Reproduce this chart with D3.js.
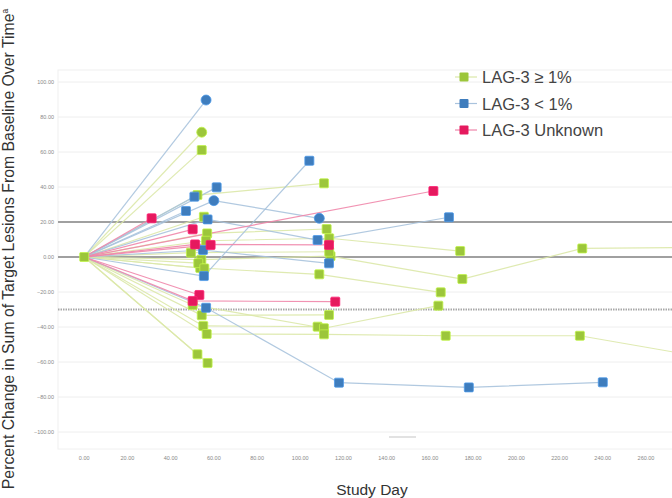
<!DOCTYPE html>
<html>
<head>
<meta charset="utf-8">
<script src="https://cdn.jsdelivr.net/npm/d3@7"></script>
<style>
  body { margin: 0; background: #fff; }
  svg { display: block; font-family: "Liberation Sans", Arial, sans-serif; }
</style>
</head>
<body>
<svg id="chart" width="672" height="498"></svg>
<script>
// Each patient: list of [study day, % change]; third item "o" = round marker
const lagHigh = [
    [[0, 0], [52.4, 35.4], [111, 42.1]],
    [[0, 0], [56.9, 13.5], [112.2, 16]],
    [[0, 0], [56.4, 9.3], [113.4, 10.7], [174, 3.4]],
    [[0, 0], [54.2, -1.5], [114, 0.5], [175, -12.6], [230.5, 4.9], [290, 5.5]],
    [[0, 0], [53.7, -6.3], [108.8, -9.9], [165, -20.2]],
    [[0, 0], [54.4, -33.3], [113.3, -33.1]],
    [[0, 0], [55.1, -39.4], [108, -39.8]],
    [[0, 0], [50.2, -27.4], [111, -40.7], [163.9, -27.8]],
    [[0, 0], [56.7, -44], [111, -44.2], [167.3, -45], [229.4, -45], [290, -58]],
    [[0, 0], [49.4, 2.5], [113.4, 3]],
    [[0, 0], [54.4, 71.3, "o"]],
    [[0, 0], [54.4, 61.1]],
    [[0, 0], [55.4, 23]],
    [[0, 0], [52.4, -55.6]],
    [[0, 0], [57.1, -60.6]],
    [[0, 0], [52.8, -3.5]],
    [[0, 0], [55.6, -6.5]]
];

const lagLow = [
    [[0, 0], [56.4, 89.7, "o"]],
    [[0, 0], [61.3, 39.8]],
    [[0, 0], [51, 34.5]],
    [[0, 0], [60, 32.2, "o"], [108.8, 22.1, "o"]],
    [[0, 0], [47.1, 26.3]],
    [[0, 0], [57.1, 21.5], [108, 9.7], [168.8, 22.7]],
    [[0, 0], [55, 4], [113.3, -3.6]],
    [[0, 0], [55.4, -10.9], [104.2, 55]],
    [[0, 0], [56.4, -29], [117.9, -71.8], [178, -74.5], [240, -71.6]]
];

const lagUnknown = [
    [[0, 0], [31.2, 22.1]],
    [[0, 0], [50.2, 15.8]],
    [[0, 0], [51.3, 7.2], [113.3, 6.9]],
    [[0, 0], [58.5, 6.9]],
    [[0, 0], [161.6, 37.7]],
    [[0, 0], [53.3, -21.7]],
    [[0, 0], [50.2, -25.1], [116.2, -25.5]]
];

const xTicks = d3.range(0, 261, 20);
const yTicks = d3.range(-100, 101, 20);
const refLines = [20, 0];
const dashedRef = -30;

const groups = [
    { name: "LAG-3 \u2265 1%", data: lagHigh, fill: "#9cc63b", line: "#dbe8a8" },
    { name: "LAG-3 < 1%", data: lagLow, fill: "#3f7dbd", line: "#a9c3dd" },
    { name: "LAG-3 Unknown", data: lagUnknown, fill: "#e5195e", line: "#ef86aa" }
];

const svg = d3.select("#chart");
const x = d3.scaleLinear().domain([0, 260]).range([84.2, 646]);
const y = d3.scaleLinear().domain([-100, 100]).range([432, 82]);

// plot frame
svg.append("rect")
    .attr("x", 58).attr("y", 70)
    .attr("width", 620).attr("height", 379)
    .attr("fill", "none").attr("stroke", "#f0f0f0");

// horizontal gridlines
svg.append("g").selectAll("line")
    .data(yTicks)
    .join("line")
    .attr("x1", 58).attr("x2", 672)
    .attr("y1", d => y(d)).attr("y2", d => y(d))
    .attr("stroke", "#eeeeee");

// y tick labels
svg.append("g").selectAll("text")
    .data(yTicks)
    .join("text")
    .attr("x", 54).attr("y", d => y(d) + 2)
    .attr("text-anchor", "end")
    .attr("font-size", 5.5)
    .attr("fill", "#888")
    .text(d => d3.format(".2f")(d));

// x tick labels
svg.append("g").selectAll("text")
    .data(xTicks)
    .join("text")
    .attr("x", d => x(d)).attr("y", 460)
    .attr("text-anchor", "middle")
    .attr("font-size", 5.5)
    .attr("fill", "#888")
    .text(d => d3.format(".2f")(d));

// reference lines
svg.append("g").selectAll("line")
    .data(refLines)
    .join("line")
    .attr("x1", 58).attr("x2", 672)
    .attr("y1", d => y(d)).attr("y2", d => y(d))
    .attr("stroke", "#a0a0a0")
    .attr("stroke-width", 1.8);

svg.append("line")
    .attr("x1", 58).attr("x2", 672)
    .attr("y1", y(dashedRef)).attr("y2", y(dashedRef))
    .attr("stroke", "#a8a8a8")
    .attr("stroke-width", 2)
    .attr("stroke-dasharray", "1.5,1");

// little stray mark near the bottom
svg.append("line")
    .attr("x1", 389).attr("x2", 416)
    .attr("y1", 437).attr("y2", 437)
    .attr("stroke", "#cfcfcf").attr("stroke-width", 1.2);

const lineGen = d3.line().x(d => x(d[0])).y(d => y(d[1]));

// patient lines
groups.forEach(g => {
    svg.append("g").selectAll("path")
        .data(g.data)
        .join("path")
        .attr("d", lineGen)
        .attr("fill", "none")
        .attr("stroke", g.line)
        .attr("stroke-width", 1.2)
        .attr("opacity", 0.9);
});

// markers
function drawMarks(sel, pts, fill) {
    sel.selectAll("rect")
        .data(pts.filter(p => p[2] !== "o"))
        .join("rect")
        .attr("x", p => x(p[0]) - 4.5)
        .attr("y", p => y(p[1]) - 4.5)
        .attr("width", 9).attr("height", 9)
        .attr("rx", 1)
        .attr("fill", fill)
        .attr("stroke", d3.color(fill).brighter(0.6))
        .attr("stroke-width", 0.8);
    sel.selectAll("circle")
        .data(pts.filter(p => p[2] === "o"))
        .join("circle")
        .attr("cx", p => x(p[0]))
        .attr("cy", p => y(p[1]))
        .attr("r", 5)
        .attr("fill", fill)
        .attr("stroke", d3.color(fill).brighter(0.6))
        .attr("stroke-width", 0.8);
}

groups.forEach(g => {
    const pts = g.data.flatMap(p => p.slice(1));
    drawMarks(svg.append("g"), pts, g.fill);
});

// baseline marker
drawMarks(svg.append("g"), [[0, 0]], groups[0].fill);

// legend
const legend = svg.append("g");
groups.forEach((g, i) => {
    const ly = 77 + i * 26.5;
    legend.append("line")
        .attr("x1", 455).attr("x2", 477)
        .attr("y1", ly).attr("y2", ly)
        .attr("stroke", g.line).attr("stroke-width", 1.2);
    legend.append("rect")
        .attr("x", 459.5).attr("y", ly - 4.5)
        .attr("width", 9).attr("height", 9)
        .attr("rx", 1)
        .attr("fill", g.fill);
    legend.append("text")
        .attr("x", 482).attr("y", ly + 6)
        .attr("font-size", 16.5)
        .attr("fill", "#444")
        .text(g.name);
});

// axis titles
svg.append("text")
    .attr("x", 372).attr("y", 495)
    .attr("text-anchor", "middle")
    .attr("font-size", 15.5)
    .attr("fill", "#333")
    .text("Study Day");

const yTitle = svg.append("text")
    .attr("transform", "translate(14,249) rotate(-90)")
    .attr("text-anchor", "middle")
    .attr("font-size", 15.8)
    .attr("fill", "#333");
yTitle.append("tspan").text("Percent Change in Sum of Target Lesions From Baseline Over Time");
yTitle.append("tspan").attr("font-size", 8.5).attr("dy", -6).text("a");
</script>
</body>
</html>
